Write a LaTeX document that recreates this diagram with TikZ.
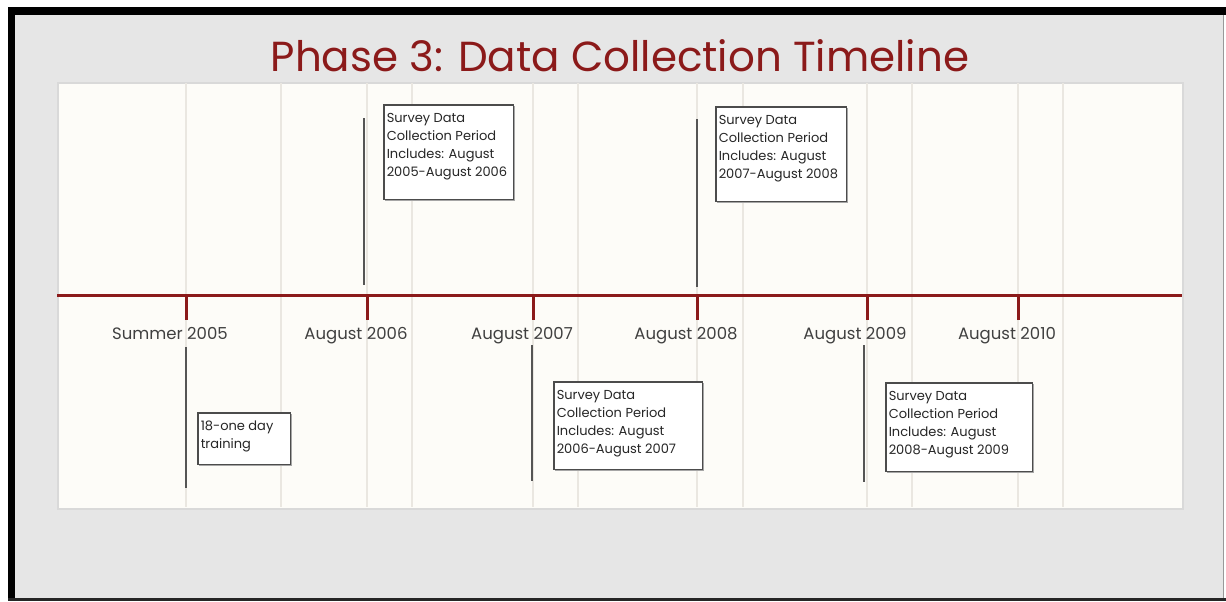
\documentclass[tikz,border=0pt]{standalone}
\usepackage{fontspec}
\setmainfont{Poppins}
\usetikzlibrary{shadows}
\definecolor{bgGray}{HTML}{E6E6E6}
\definecolor{panel}{HTML}{FDFCF8}
\definecolor{gridc}{HTML}{EAE7E1}
\definecolor{tlred}{HTML}{8B1A1A}
\definecolor{conn}{HTML}{555555}
\newcommand{\firststrut}{\rule{0pt}{15pt}}
\tikzset{
  gridline/.style={draw=gridc, line width=1.5pt},
  tickmark/.style={draw=tlred, line width=3pt},
  datelabel/.style={font=\fontsize{16.5}{20}\selectfont, text=black!75, inner sep=0pt, anchor=base},
  note/.style={draw=black!70, line width=1.5pt, fill=white, anchor=north west, inner sep=3pt,
    font=\fontsize{13}{18}\selectfont, text=black!85,
    drop shadow={shadow xshift=1.5pt, shadow yshift=-1.5pt, fill=black!35, opacity=1}},
  leader/.style={draw=conn, line width=1.5pt},
}
\begin{document}
\begin{tikzpicture}[x=1pt,y=-1pt]
\useasboundingbox (0,0) rectangle (1226,602);
\fill[white] (0,0) rectangle (1226,602);
% slide frame
\fill[bgGray] (12,11) rectangle (1224,600);
\fill[black] (8,7) rectangle (1226,15);
\fill[black] (8,7) rectangle (15,601);
\fill[black!85] (8,598) rectangle (1226,601);
\draw[black!40, line width=1.5pt] (1223.5,15) -- (1223.5,598);
% title
\node (title) at (620,72) [anchor=base, font=\fontsize{42}{50}\selectfont, text=tlred, inner sep=0pt] {Phase 3: Data Collection Timeline};
% panel
\node (panel) [draw=black!15, line width=1.5pt, fill=panel, anchor=north west, minimum width=1125pt, minimum height=426pt, inner sep=0pt] at (57,82) {};
\foreach \gx in {186,281,367,412,533,578,697,743,867,912,1018,1063}{
  \draw[gridline] (\gx,83) -- (\gx,507);
}
% timeline
\coordinate (tlL) at (57,295);
\coordinate (tlR) at (1182,295);
\draw[tlred, line width=3pt] (tlL) -- (tlR);
\foreach \tx/\tn in {186/a,367/b,533/c,697/d,867/e,1018/f}{
  \coordinate (tick\tn top) at (\tx,295);
  \coordinate (tick\tn bot) at (\tx,320);
  \draw[tickmark] (tick\tn top) -- (tick\tn bot);
}
% date labels
\node[datelabel] (d1) at (170,339) {Summer 2005};
\node[datelabel] (d2) at (356,339) {August 2006};
\node[datelabel] (d3) at (522,339) {August 2007};
\node[datelabel] (d4) at (686,339) {August 2008};
\node[datelabel] (d5) at (855,339) {August 2009};
\node[datelabel] (d6) at (1007,339) {August 2010};
% leader lines
\coordinate (la1) at (364,118); \coordinate (la2) at (364,285);
\coordinate (lb1) at (697,119); \coordinate (lb2) at (697,287);
\coordinate (lc1) at (186,347); \coordinate (lc2) at (186,488);
\coordinate (ld1) at (532,345); \coordinate (ld2) at (532,481);
\coordinate (le1) at (864,345); \coordinate (le2) at (864,482);
\draw[leader] (la1) -- (la2);
\draw[leader] (lb1) -- (lb2);
\draw[leader] (lc1) -- (lc2);
\draw[leader] (ld1) -- (ld2);
\draw[leader] (le1) -- (le2);
% notes
\node[note] (na) at (383,104) {\parbox[t][88.5pt][t]{123.5pt}{\firststrut Survey Data\\Collection Period\\Includes: August\\\mbox{2005-August 2006}}};
\node[note] (nb) at (715,106) {\parbox[t][88.5pt][t]{124.5pt}{\firststrut Survey Data\\Collection Period\\Includes: August\\\mbox{2007-August 2008}}};
\node[note] (nc) at (197,412) {\parbox[t][45.5pt][t]{86.5pt}{\firststrut 18-one day\\training}};
\node[note] (nd) at (553,381) {\parbox[t][81.5pt][t]{142.5pt}{\firststrut Survey Data\\Collection Period\\Includes: August\\\mbox{2006-August 2007}}};
\node[note] (ne) at (885,382) {\parbox[t][82.5pt][t]{140.5pt}{\firststrut Survey Data\\Collection Period\\Includes: August\\\mbox{2008-August 2009}}};
\end{tikzpicture}
\end{document}
